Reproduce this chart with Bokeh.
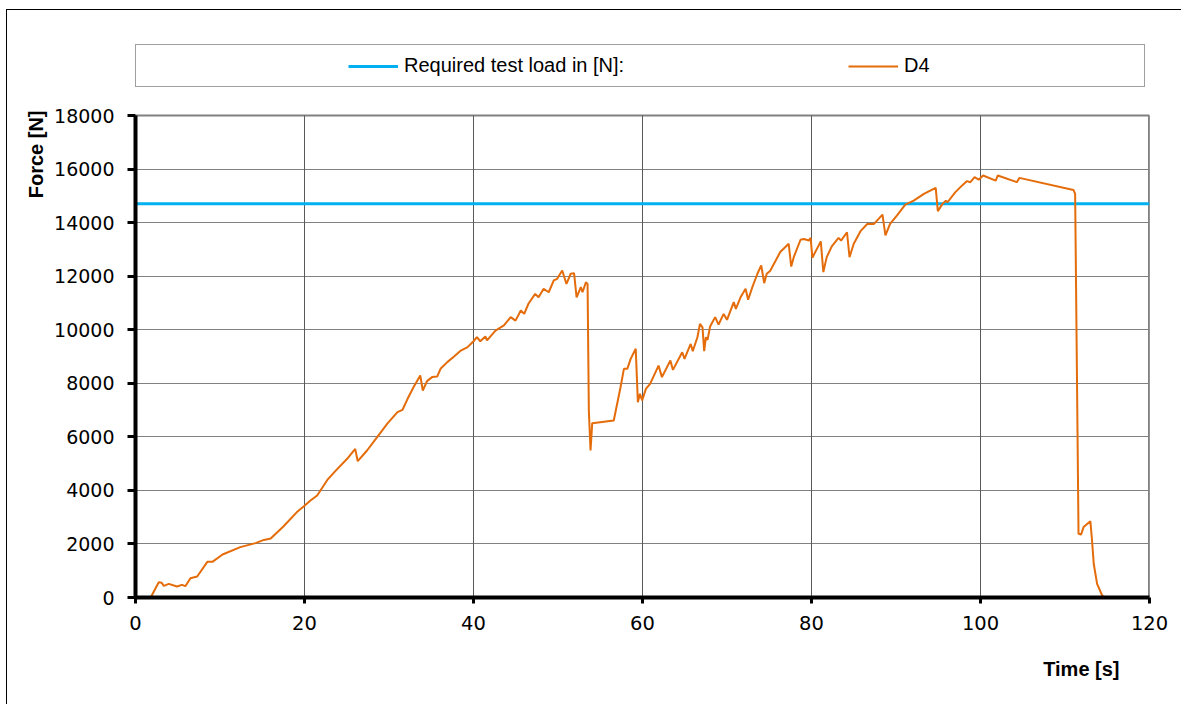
import math
from bokeh.plotting import figure
from bokeh.models import Legend, LegendItem, Title, FixedTicker, Range1d, Grid
from bokeh.embed import file_html
from bokeh.resources import INLINE

# ---- data ----
time_s = [0, 1.8, 2.75, 3.1, 3.35, 3.95, 4.9, 5.5, 5.9, 6.5, 7.3, 8.5, 9.1, 10.3, 12.4,
          14.2, 15.2, 16.0, 17.5, 19.1, 19.9, 20.7, 21.5, 22.7, 23.7, 25.05, 26.0, 26.3,
          27.4, 28.6, 29.8, 31.0, 31.6, 32.2, 32.9, 33.7, 34.0, 34.5, 35.1, 35.7, 36.1,
          36.9, 37.7, 38.5, 39.3, 40.0, 40.4, 40.8, 41.4, 41.6, 42.6, 43.6, 44.4, 44.97,
          45.6, 46.0, 46.5, 47.3, 47.7, 48.3, 48.9, 49.5, 49.9, 50.5, 51.0, 51.5, 51.9,
          52.2, 52.7, 52.9, 53.3, 53.5, 53.65, 53.85, 54.05, 56.6, 57.4, 57.8, 58.2, 58.6,
          59.2, 59.45, 59.7, 59.96, 60.4, 60.9, 61.9, 62.3, 63.3, 63.6, 64.7, 64.97, 65.7,
          65.95, 66.5, 66.8, 67.1, 67.3, 67.5, 67.7, 68.0, 68.6, 69.0, 69.6, 70.0, 70.8,
          71.05, 71.6, 72.2, 72.5, 73.0, 73.6, 74.05, 74.4, 74.7, 75.1, 76.3, 77.3, 77.6,
          77.9, 78.7, 79.1, 79.7, 79.9, 80.1, 81.1, 81.4, 81.8, 82.4, 83.2, 83.5, 84.2,
          84.5, 85.0, 85.8, 86.6, 87.4, 88.4, 88.75, 89.3, 90.1, 91.1, 92.1, 93.3, 94.7,
          94.95, 95.5, 95.9, 96.1, 97.0, 97.8, 98.4, 98.8, 99.3, 99.8, 100.3, 101.8,
          102.05, 104.3, 104.6, 111.0, 111.2, 111.4, 111.6, 111.9, 112.2, 113.0, 113.2,
          113.4, 113.8, 114.4, 114.8, 117.6]
force_n = [0, 0, 570, 550, 436, 510, 410, 473, 423, 722, 785, 1332, 1332, 1606, 1880,
           2030, 2150, 2200, 2650, 3190, 3400, 3620, 3810, 4390, 4740, 5180, 5550, 5090,
           5490, 5990, 6490, 6920, 7010, 7420, 7850, 8290, 7730, 8080, 8230, 8250, 8540,
           8790, 9000, 9220, 9350, 9570, 9720, 9570, 9750, 9600, 9970, 10160, 10470, 10340,
           10720, 10590, 10970, 11340, 11210, 11530, 11400, 11840, 11900, 12210, 11710, 12090, 12110,
           11210, 11590, 11400, 11770, 11710, 6980, 5490, 6510, 6610, 7850, 8540, 8540, 8910,
           9290, 7290, 7610, 7360, 7790, 7980, 8660, 8230, 8850, 8500, 9160, 8910, 9470,
           9200, 9720, 10220, 10090, 9200, 9720, 9620, 10120, 10470, 10190, 10590, 10370, 11030,
           10780, 11210, 11530, 11120, 11590, 12090, 12400, 11740, 12090, 12190, 12900, 13210, 12360,
           12710, 13360, 13390, 13330, 13430, 12690, 13300, 12150, 12710, 13110, 13430, 13330, 13640,
           12710, 13210, 13680, 13950, 13950, 14300, 13520, 13950, 14260, 14670, 14820, 15070, 15300,
           14430, 14700, 14820, 14760, 15130, 15380, 15550, 15510, 15700, 15600, 15760, 15570,
           15760, 15510, 15670, 15220, 15070, 8730, 2380, 2350, 2630, 2850, 2130,
           1260, 510, 75, 0, 0]
req_x = [0, 120]
req_load = [14700, 14700]
x_ticks = [0, 20, 40, 60, 80, 100, 120]
y_ticks = [0, 2000, 4000, 6000, 8000, 10000, 12000, 14000, 16000, 18000]
x_max = 120
y_max = 18000
series_names = ["Required test load in [N]:", "D4"]
x_title = "Time [s]"
y_title = "Force [N]"

# ---- layout (pixels) ----
PLOT_H = 482          # height of the 0..18000 plotting area
FRAME_H = 562         # frame also holds the legend band above the plotting area
y_top = y_max * FRAME_H / PLOT_H

p = figure(width=1175, height=695, output_backend="svg", toolbar_location=None,
           title_location=None,
           x_range=Range1d(0, x_max), y_range=Range1d(0, y_top),
           min_border_left=128, min_border_right=33, min_border_top=25, min_border_bottom=108,
           background_fill_color="white", border_fill_color="white")
p.styles = {"margin-left": "6px", "margin-top": "9px",
            "border-left": "1px solid #000000", "border-top": "1px solid #000000"}
p.outline_line_color = None

for ax, ticks in ((p.xaxis, x_ticks), (p.yaxis, y_ticks)):
    ax.ticker = FixedTicker(ticks=ticks)
    ax.axis_line_color = "black"
    ax.axis_line_width = 4
    ax.major_tick_line_color = "black"
    ax.major_tick_line_width = 3
    ax.major_tick_in = 0
    ax.minor_tick_line_color = None
    ax.major_label_text_font = "DejaVu Sans"
    ax.major_label_text_color = "black"
p.yaxis.bounds = (0, y_max)
p.xaxis.major_label_text_font_size = "19.5px"
p.yaxis.major_label_text_font_size = "19px"
p.xaxis.major_tick_out = 6
p.yaxis.major_tick_out = 8
p.xaxis.major_label_standoff = 12
p.yaxis.major_label_standoff = 13

# horizontal dotted grid
p.xgrid.visible = False
p.ygrid.ticker = FixedTicker(ticks=y_ticks)
p.ygrid.grid_line_color = "black"
p.ygrid.grid_line_dash = "1 1"
p.ygrid.grid_line_width = 1
# top edge of the plotting area
p.add_layout(Grid(dimension=1, ticker=FixedTicker(ticks=[y_max]),
                  grid_line_color="#808080", grid_line_width=2))

# vertical grid lines limited to the 0..18000 plotting area
n_x = len(x_ticks)
p.segment(x0=x_ticks, y0=[0] * n_x, x1=x_ticks, y1=[y_max] * n_x,
          line_color="#595959", line_width=1)
# right edge of the plotting area
p.segment(x0=[x_max], y0=[0], x1=[x_max], y1=[y_max],
          line_color="#808080", line_width=3)

r_req = p.line(req_x, req_load, line_color="#00B0F0", line_width=3)
r_d4 = p.line(time_s, force_n, line_color="#E46C0A", line_width=2)

legend = Legend(items=[LegendItem(label=series_names[0], renderers=[r_req]),
                       LegendItem(label=series_names[1], renderers=[r_d4])],
                orientation="horizontal", location=(0, 510),
                title=" ", title_location="left", title_standoff=202,
                title_text_font_size="1px",
                label_text_font="Liberation Sans", label_text_font_size="20px",
                label_text_color="black",
                glyph_width=50, glyph_height=20, label_standoff=6, label_width=231,
                label_height=20, spacing=213, padding=9, margin=0,
                border_line_color="#404040", border_line_width=1,
                background_fill_color="white", background_fill_alpha=1)
p.add_layout(legend, "center")

p.add_layout(Title(text=y_title, align="right", offset=75, standoff=10,
                   text_font="Liberation Sans", text_font_style="bold",
                   text_font_size="20px", text_color="black"), "left")
p.add_layout(Title(text=x_title, align="right", offset=30, standoff=46,
                   text_font="Liberation Sans", text_font_style="bold",
                   text_font_size="20px", text_color="black"), "below")

open("out.html", "w").write(file_html(p, INLINE))
